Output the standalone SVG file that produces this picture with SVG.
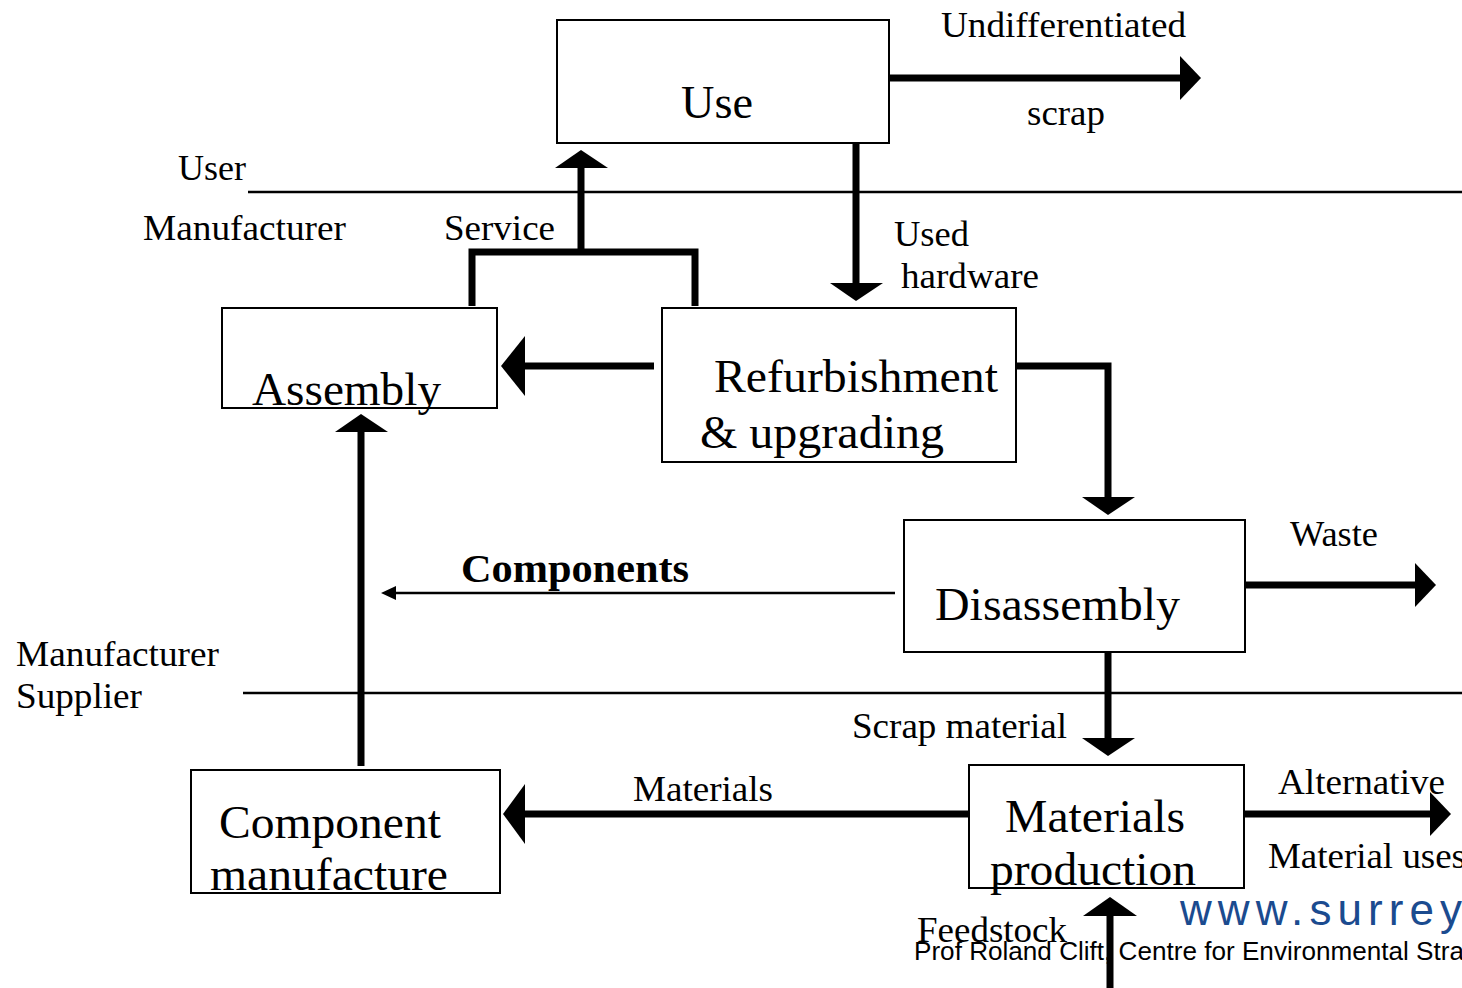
<svg xmlns="http://www.w3.org/2000/svg" width="1462" height="988" viewBox="0 0 1462 988">
<style>
.box{fill:#fff;stroke:#000;stroke-width:2}
.thick{fill:none;stroke:#000;stroke-width:7}
.thin{fill:none;stroke:#000;stroke-width:2.5}
.head{fill:#000}
.lbl{font-family:"Liberation Serif","Times New Roman",serif;font-size:36px;fill:#000}
.big{font-family:"Liberation Serif","Times New Roman",serif;font-size:46px;fill:#000}
.bold{font-family:"Liberation Serif","Times New Roman",serif;font-size:40px;font-weight:bold;fill:#000}
.web{font-family:"Liberation Sans",Arial,sans-serif;font-size:44px;fill:#1B4B8F}
.credit{font-family:"Liberation Sans",Arial,sans-serif;font-size:25px;fill:#000}
</style>
<rect width="1462" height="988" fill="#fff"/>
<g id="swimlanes">
<line class="thin" x1="248" y1="192" x2="1462" y2="192"/>
<line class="thin" x1="243" y1="693" x2="1462" y2="693"/>
<text class="lbl" x="178" y="180" textLength="68" lengthAdjust="spacingAndGlyphs">User</text>
<text class="lbl" x="143" y="240" textLength="203" lengthAdjust="spacingAndGlyphs">Manufacturer</text>
<text class="lbl" x="16" y="666" textLength="203" lengthAdjust="spacingAndGlyphs">Manufacturer</text>
<text class="lbl" x="16" y="708" textLength="126" lengthAdjust="spacingAndGlyphs">Supplier</text>
</g>
<g id="connectors">
<line class="thick" x1="889" y1="78" x2="1182" y2="78"/>
<polygon class="head" points="1180,56 1201,78 1180,100"/>
<polyline class="thick" points="472,306 472,252 695,252 695,306"/>
<line class="thick" x1="581" y1="252" x2="581" y2="166"/>
<polygon class="head" points="555,168 581,150 608,168"/>
<line class="thick" x1="856" y1="143" x2="856" y2="285"/>
<polygon class="head" points="830,283 856,301 883,283"/>
<line class="thick" x1="654" y1="366" x2="522" y2="366"/>
<polygon class="head" points="525,336 501,366 525,396"/>
<polyline class="thick" points="1016,366 1108,366 1108,499"/>
<polygon class="head" points="1082,497 1108,515 1135,497"/>
<line class="thick" x1="1245" y1="585" x2="1417" y2="585"/>
<polygon class="head" points="1415,563 1436,585 1415,607"/>
<line class="thin" x1="895" y1="593" x2="393" y2="593"/>
<polygon class="head" points="396,586 381,593 396,600"/>
<line class="thick" x1="361" y1="766" x2="361" y2="430"/>
<polygon class="head" points="335,432 361,414 388,432"/>
<line class="thick" x1="1108" y1="652" x2="1108" y2="740"/>
<polygon class="head" points="1082,738 1108,756 1135,738"/>
<line class="thick" x1="969" y1="814" x2="522" y2="814"/>
<polygon class="head" points="525,784 503,814 525,844"/>
<line class="thick" x1="1244" y1="814" x2="1432" y2="814"/>
<polygon class="head" points="1430,792 1451,814 1430,836"/>
<line class="thick" x1="1110" y1="988" x2="1110" y2="914"/>
<polygon class="head" points="1083,916 1110,897 1137,916"/>
<text class="lbl" x="941" y="37" textLength="245" lengthAdjust="spacingAndGlyphs">Undifferentiated</text>
<text class="lbl" x="1027" y="125" textLength="78" lengthAdjust="spacingAndGlyphs">scrap</text>
<text class="lbl" x="444" y="240" textLength="111" lengthAdjust="spacingAndGlyphs">Service</text>
<text class="lbl" x="894" y="246" textLength="75" lengthAdjust="spacingAndGlyphs">Used</text>
<text class="lbl" x="901" y="288" textLength="138" lengthAdjust="spacingAndGlyphs">hardware</text>
<text class="lbl" x="1290" y="546" textLength="88" lengthAdjust="spacingAndGlyphs">Waste</text>
<text class="bold" x="461" y="582" textLength="228" lengthAdjust="spacingAndGlyphs">Components</text>
<text class="lbl" x="852" y="738" textLength="215" lengthAdjust="spacingAndGlyphs">Scrap material</text>
<text class="lbl" x="633" y="801" textLength="140" lengthAdjust="spacingAndGlyphs">Materials</text>
<text class="lbl" x="1278" y="794" textLength="167" lengthAdjust="spacingAndGlyphs">Alternative</text>
<text class="lbl" x="1268" y="868" textLength="198" lengthAdjust="spacingAndGlyphs">Material uses</text>
<text class="lbl" x="917" y="942" textLength="150" lengthAdjust="spacingAndGlyphs">Feedstock</text>
</g>
<g id="use">
<rect class="box" x="557" y="20" width="332" height="123"/>
<text class="big" x="681" y="118" textLength="72" lengthAdjust="spacingAndGlyphs">Use</text>
</g>
<g id="assembly">
<rect class="box" x="222" y="308" width="275" height="100"/>
<text class="big" x="252" y="405" textLength="189" lengthAdjust="spacingAndGlyphs">Assembly</text>
</g>
<g id="refurbishment">
<rect class="box" x="662" y="308" width="354" height="154"/>
<text class="big" x="714" y="392" textLength="284" lengthAdjust="spacingAndGlyphs">Refurbishment</text>
<text class="big" x="700" y="448" textLength="244" lengthAdjust="spacingAndGlyphs">&amp; upgrading</text>
</g>
<g id="disassembly">
<rect class="box" x="904" y="520" width="341" height="132"/>
<text class="big" x="935" y="620" textLength="245" lengthAdjust="spacingAndGlyphs">Disassembly</text>
</g>
<g id="component-manufacture">
<rect class="box" x="191" y="770" width="309" height="123"/>
<text class="big" x="219" y="838" textLength="222" lengthAdjust="spacingAndGlyphs">Component</text>
<text class="big" x="210" y="890" textLength="238" lengthAdjust="spacingAndGlyphs">manufacture</text>
</g>
<g id="materials-production">
<rect class="box" x="969" y="765" width="275" height="123"/>
<text class="big" x="1005" y="832" textLength="180" lengthAdjust="spacingAndGlyphs">Materials</text>
<text class="big" x="990" y="885" textLength="206" lengthAdjust="spacingAndGlyphs">production</text>
</g>
<g id="footer">
<text class="web" x="1180" y="925" textLength="282" lengthAdjust="spacing">www.surrey</text>
<text class="credit" x="914" y="960" textLength="550" lengthAdjust="spacingAndGlyphs">Prof Roland Clift, Centre for Environmental Stra</text>
</g>
</svg>
